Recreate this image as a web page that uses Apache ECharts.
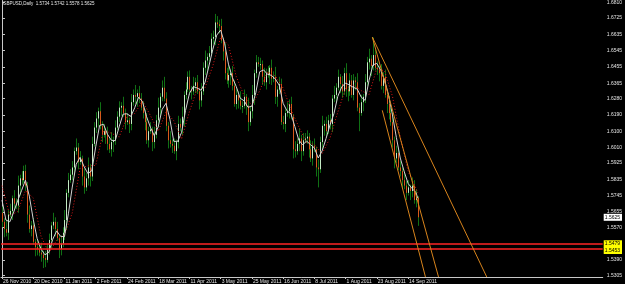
<!DOCTYPE html>
<html><head><meta charset="utf-8">
<script src="https://cdn.jsdelivr.net/npm/echarts@6/dist/echarts.min.js"></script>
<style>html,body{margin:0;padding:0;background:#000}#c{width:625px;height:284px}</style>
</head><body><div id="c"></div>
<script>
const symbolTitle = 'GBPUSD,Daily';
const titleQuote = [1.5734, 1.5742, 1.5578, 1.5625];

const open = [
1.5650,1.5600,1.5560,1.5540,1.5640,1.5660,1.5730,1.5700,1.5690,1.5800,
1.5840,1.5830,1.5880,1.5800,1.5640,1.5560,1.5580,1.5490,1.5460,1.5450,
1.5430,1.5420,1.5400,1.5390,1.5450,1.5500,1.5580,1.5600,1.5560,1.5510,
1.5450,1.5480,1.5540,1.5610,1.5760,1.5830,1.5860,1.5900,1.5990,1.6010,
1.5930,1.5950,1.5850,1.5790,1.5840,1.5900,1.5850,1.6030,1.6120,1.6170,
1.6210,1.6130,1.6080,1.6100,1.6080,1.6030,1.6000,1.6040,1.6050,1.6120,
1.6180,1.6230,1.6240,1.6200,1.6150,1.6160,1.6140,1.6260,1.6300,1.6290,
1.6310,1.6280,1.6230,1.6200,1.6150,1.6050,1.6100,1.6110,1.6040,1.6080,
1.6160,1.6230,1.6290,1.6340,1.6280,1.6130,1.6050,1.6030,1.6020,1.5990,
1.6040,1.6140,1.6120,1.6180,1.6300,1.6330,1.6400,1.6330,1.6320,1.6350,
1.6370,1.6320,1.6270,1.6320,1.6450,1.6490,1.6510,1.6530,1.6610,1.6620,
1.6700,1.6690,1.6680,1.6600,1.6540,1.6420,1.6380,1.6410,1.6420,1.6350,
1.6250,1.6300,1.6270,1.6240,1.6240,1.6290,1.6240,1.6150,1.6210,1.6300,
1.6420,1.6480,1.6470,1.6470,1.6400,1.6370,1.6420,1.6410,1.6450,1.6390,
1.6400,1.6290,1.6330,1.6360,1.6150,1.6140,1.6200,1.6210,1.6250,1.6180,
1.6000,1.5990,1.6030,1.6060,1.5990,1.6050,1.6060,1.6070,1.6000,1.5950,
1.6020,1.6000,1.5900,1.5890,1.6040,1.6130,1.6140,1.6100,1.6160,1.6140,
1.6280,1.6300,1.6340,1.6400,1.6360,1.6320,1.6420,1.6330,1.6320,1.6380,
1.6300,1.6380,1.6370,1.6230,1.6200,1.6260,1.6290,1.6370,1.6480,1.6500,
1.6460,1.6520,1.6450,1.6440,1.6420,1.6350,1.6400,1.6300,1.6250,1.6200,
1.6150,1.6050,1.5950,1.5980,1.5900,1.5880,1.5830,1.5800,1.5760,1.5790,
1.5770,1.5800,1.5720,1.5734];

const high = [
1.5685,1.5620,1.5610,1.5665,1.5700,1.5745,1.5775,1.5730,1.5855,1.5860,
1.5880,1.5910,1.5915,1.5820,1.5690,1.5605,1.5620,1.5505,1.5505,1.5480,
1.5485,1.5440,1.5440,1.5480,1.5535,1.5600,1.5650,1.5625,1.5600,1.5525,
1.5525,1.5570,1.5665,1.5780,1.5870,1.5890,1.5935,1.6010,1.6060,1.6035,
1.5990,1.5965,1.5895,1.5870,1.5955,1.5920,1.6070,1.6150,1.6205,1.6230,
1.6260,1.6155,1.6140,1.6115,1.6125,1.6060,1.6095,1.6070,1.6160,1.6210,
1.6265,1.6260,1.6290,1.6225,1.6200,1.6175,1.6305,1.6330,1.6355,1.6330,
1.6350,1.6310,1.6265,1.6220,1.6200,1.6125,1.6150,1.6125,1.6125,1.6190,
1.6285,1.6310,1.6380,1.6400,1.6315,1.6150,1.6100,1.6055,1.6060,1.6055,
1.6185,1.6170,1.6235,1.6320,1.6370,1.6430,1.6435,1.6350,1.6400,1.6395,
1.6410,1.6335,1.6365,1.6480,1.6545,1.6530,1.6570,1.6640,1.6655,1.6747,
1.6735,1.6715,1.6720,1.6615,1.6585,1.6450,1.6465,1.6440,1.6460,1.6380,
1.6335,1.6320,1.6320,1.6265,1.6330,1.6305,1.6285,1.6240,1.6355,1.6440,
1.6520,1.6510,1.6505,1.6490,1.6450,1.6445,1.6460,1.6465,1.6495,1.6430,
1.6455,1.6350,1.6400,1.6390,1.6185,1.6220,1.6260,1.6275,1.6290,1.6195,
1.6045,1.6060,1.6115,1.6080,1.6090,1.6090,1.6105,1.6090,1.6050,1.6045,
1.6060,1.6015,1.5945,1.6070,1.6185,1.6160,1.6180,1.6190,1.6195,1.6300,
1.6350,1.6365,1.6440,1.6415,1.6405,1.6450,1.6475,1.6350,1.6420,1.6410,
1.6415,1.6400,1.6420,1.6255,1.6300,1.6305,1.6415,1.6510,1.6555,1.6520,
1.6617,1.6550,1.6485,1.6460,1.6470,1.6425,1.6440,1.6315,1.6295,1.6230,
1.6205,1.6070,1.6020,1.6010,1.5935,1.5900,1.5880,1.5825,1.5830,1.5805,
1.5845,1.5830,1.5780,1.5742];

const low = [
1.5570,1.5515,1.5520,1.5500,1.5625,1.5610,1.5665,1.5670,1.5650,1.5745,
1.5805,1.5815,1.5770,1.5595,1.5540,1.5520,1.5475,1.5410,1.5415,1.5410,
1.5380,1.5345,1.5350,1.5375,1.5420,1.5455,1.5560,1.5520,1.5495,1.5400,
1.5415,1.5460,1.5500,1.5555,1.5735,1.5815,1.5830,1.5855,1.5970,1.5890,
1.5915,1.5800,1.5755,1.5770,1.5800,1.5795,1.5825,1.6015,1.6090,1.6125,
1.6110,1.6040,1.6065,1.6030,1.5995,1.5980,1.5960,1.5985,1.6025,1.6105,
1.6150,1.6185,1.6180,1.6110,1.6135,1.6090,1.6105,1.6240,1.6250,1.6235,
1.6255,1.6215,1.6170,1.6105,1.6030,1.6010,1.6085,1.5990,1.6005,1.6060,
1.6120,1.6175,1.6265,1.6265,1.6100,1.6005,1.6010,1.5980,1.5975,1.5940,
1.6005,1.6100,1.6080,1.6125,1.6275,1.6315,1.6300,1.6275,1.6300,1.6310,
1.6305,1.6220,1.6235,1.6300,1.6410,1.6435,1.6485,1.6515,1.6580,1.6575,
1.6670,1.6640,1.6585,1.6490,1.6385,1.6360,1.6340,1.6355,1.6325,1.6235,
1.6220,1.6225,1.6220,1.6200,1.6225,1.6190,1.6100,1.6130,1.6170,1.6245,
1.6395,1.6455,1.6440,1.6355,1.6350,1.6330,1.6395,1.6360,1.6355,1.6370,
1.6250,1.6235,1.6305,1.6135,1.6110,1.6095,1.6180,1.6170,1.6165,1.5950,
1.5955,1.5970,1.5990,1.5935,1.5965,1.6035,1.6030,1.5955,1.5930,1.5910,
1.5985,1.5850,1.5790,1.5870,1.6000,1.6075,1.6075,1.6085,1.6110,1.6095,
1.6260,1.6260,1.6325,1.6310,1.6285,1.6300,1.6290,1.6265,1.6295,1.6285,
1.6270,1.6325,1.6210,1.6100,1.6185,1.6210,1.6255,1.6350,1.6440,1.6405,
1.6435,1.6435,1.6410,1.6375,1.6330,1.6310,1.6285,1.6200,1.6165,1.6130,
1.6010,1.5895,1.5925,1.5885,1.5850,1.5785,1.5780,1.5720,1.5745,1.5720,
1.5735,1.5700,1.5680,1.5578];

const close = [
1.5600,1.5560,1.5540,1.5640,1.5660,1.5730,1.5700,1.5690,1.5800,1.5840,
1.5830,1.5880,1.5800,1.5640,1.5560,1.5580,1.5490,1.5460,1.5450,1.5430,
1.5420,1.5400,1.5390,1.5450,1.5500,1.5580,1.5600,1.5560,1.5510,1.5450,
1.5480,1.5540,1.5610,1.5760,1.5830,1.5860,1.5900,1.5990,1.6010,1.5930,
1.5950,1.5850,1.5790,1.5840,1.5900,1.5850,1.6030,1.6120,1.6170,1.6210,
1.6130,1.6080,1.6100,1.6080,1.6030,1.6000,1.6040,1.6050,1.6120,1.6180,
1.6230,1.6240,1.6200,1.6150,1.6160,1.6140,1.6260,1.6300,1.6290,1.6310,
1.6280,1.6230,1.6200,1.6150,1.6050,1.6100,1.6110,1.6040,1.6080,1.6160,
1.6230,1.6290,1.6340,1.6280,1.6130,1.6050,1.6030,1.6020,1.5990,1.6040,
1.6140,1.6120,1.6180,1.6300,1.6330,1.6400,1.6330,1.6320,1.6350,1.6370,
1.6320,1.6270,1.6320,1.6450,1.6490,1.6510,1.6530,1.6610,1.6620,1.6700,
1.6690,1.6680,1.6600,1.6540,1.6420,1.6380,1.6410,1.6420,1.6350,1.6250,
1.6300,1.6270,1.6240,1.6240,1.6290,1.6240,1.6150,1.6210,1.6300,1.6420,
1.6480,1.6470,1.6470,1.6400,1.6370,1.6420,1.6410,1.6450,1.6390,1.6400,
1.6290,1.6330,1.6360,1.6150,1.6140,1.6200,1.6210,1.6250,1.6180,1.6000,
1.5990,1.6030,1.6060,1.5990,1.6050,1.6060,1.6070,1.6000,1.5950,1.6020,
1.6000,1.5900,1.5890,1.6040,1.6130,1.6140,1.6100,1.6160,1.6140,1.6280,
1.6300,1.6340,1.6400,1.6360,1.6320,1.6420,1.6330,1.6320,1.6380,1.6300,
1.6380,1.6370,1.6230,1.6200,1.6260,1.6290,1.6370,1.6480,1.6500,1.6460,
1.6520,1.6450,1.6440,1.6420,1.6350,1.6400,1.6300,1.6250,1.6200,1.6150,
1.6050,1.5950,1.5980,1.5900,1.5880,1.5830,1.5800,1.5760,1.5790,1.5770,
1.5800,1.5720,1.5734,1.5625];

// fast moving average (white line), read as [bar index, price]
const maFast = [[0,1.5720],[2,1.5610],[4,1.5600],[6,1.5654],[8,1.5716],[10,1.5772],[12,1.5830],[14,1.5742],[16,1.5614],[18,1.5508],[20,1.5450],[22,1.5418],[24,1.5432],[26,1.5504],[28,1.5550],[30,1.5520],[32,1.5518],[34,1.5644],[36,1.5792],[38,1.5918],[40,1.5956],[42,1.5906],[44,1.5866],[46,1.5882],[48,1.6014],[50,1.6132],[52,1.6138],[54,1.6084],[56,1.6050],[58,1.6048],[60,1.6124],[62,1.6194],[64,1.6196],[66,1.6182],[68,1.6230],[70,1.6288],[72,1.6262],[74,1.6182],[76,1.6122],[78,1.6076],[80,1.6124],[82,1.6220],[84,1.6254],[86,1.6166],[88,1.6044],[90,1.6044],[92,1.6094],[94,1.6214],[96,1.6308],[98,1.6346],[100,1.6338],[102,1.6326],[104,1.6370],[106,1.6460],[108,1.6552],[110,1.6630],[112,1.6658],[114,1.6586],[116,1.6470],[118,1.6396],[120,1.6346],[122,1.6282],[124,1.6268],[126,1.6232],[128,1.6238],[130,1.6312],[132,1.6428],[134,1.6438],[136,1.6414],[138,1.6408],[140,1.6388],[142,1.6354],[144,1.6254],[146,1.6212],[148,1.6196],[150,1.6126],[152,1.6052],[154,1.6024],[156,1.6046],[158,1.6026],[160,1.6008],[162,1.5952],[164,1.5992],[166,1.6060],[168,1.6134],[170,1.6196],[172,1.6292],[174,1.6344],[176,1.6366],[178,1.6354],[180,1.6342],[182,1.6332],[184,1.6288],[186,1.6270],[188,1.6380],[190,1.6466],[192,1.6474],[194,1.6436],[196,1.6382],[198,1.6300],[200,1.6190],[202,1.6066],[204,1.5952],[206,1.5878],[208,1.5812],[210,1.5784],[212,1.5763],[213,1.5730]];

// slow moving average (red dotted line)
const maSlow = [[0,1.5800],[4,1.5635],[8,1.5656],[12,1.5772],[16,1.5732],[20,1.5520],[24,1.5430],[28,1.5498],[32,1.5527],[36,1.5650],[40,1.5896],[44,1.5909],[48,1.5911],[52,1.6104],[56,1.6089],[60,1.6068],[64,1.6177],[68,1.6198],[72,1.6267],[76,1.6187],[80,1.6100],[84,1.6205],[88,1.6158],[92,1.6057],[96,1.6208],[100,1.6335],[104,1.6340],[108,1.6461],[112,1.6618],[116,1.6575],[120,1.6402],[124,1.6295],[128,1.6243],[132,1.6323],[136,1.6430],[140,1.6405],[144,1.6338],[148,1.6219],[152,1.6125],[156,1.6037],[160,1.6027],[164,1.5976],[168,1.6062],[172,1.6205],[176,1.6337],[180,1.6354],[184,1.6324],[188,1.6302],[192,1.6447],[196,1.6432],[200,1.6293],[204,1.6069],[208,1.5880],[212,1.5786],[213,1.5760]];

const dateTickIndex = [0,16,32,48,64,80,96,112,128,144,160,176,192,208];
const dateTickLabels = ['26 Nov 2010','20 Dec 2010','11 Jan 2011','2 Feb 2011','24 Feb 2011','18 Mar 2011','11 Apr 2011','3 May 2011','25 May 2011','16 Jun 2011','8 Jul 2011','1 Aug 2011','23 Aug 2011','14 Sep 2011'];
const priceTicks = [1.6810,1.6725,1.6635,1.6545,1.6455,1.6365,1.6280,1.6190,1.6100,1.6010,1.5925,1.5835,1.5745,1.5655,1.5570,1.5390,1.5305];
const currentPrice = 1.5625;
const levelPrices = [1.5479, 1.5453];
// trend lines: [startBar, startPrice, endBar, endPrice]
const trendLines = [[189.7,1.6619,248.3,1.5296],[189.7,1.6619,223.6,1.5296],[194.8,1.6215,216.9,1.5296]];
const priceRange = [1.52957, 1.68210];
const barRange = [-0.5, 307.7];

const candles = close.map((c, i) => [i, open[i], c, low[i], high[i]]);

function renderCandle(params, api) {
  const i = api.value(0), o = api.value(1), c = api.value(2), l = api.value(3), h = api.value(4);
  const pH = api.coord([i, h]), pL = api.coord([i, l]);
  const pO = api.coord([i, o]), pC = api.coord([i, c]);
  const x = Math.round(pH[0]) + 0.5;
  const top = Math.min(pO[1], pC[1]);
  const bot = Math.max(Math.max(pO[1], pC[1]), top + 1);
  return {
    type: 'group',
    children: [
      {type: 'line', shape: {x1: x, y1: pH[1], x2: x, y2: pL[1]}, style: {stroke: '#107014', lineWidth: 1}},
      {type: 'line', shape: {x1: x, y1: top, x2: x, y2: bot}, style: {stroke: c >= o ? '#c4eac4' : '#d85a1c', lineWidth: 1}}
    ]
  };
}

const font = 'Liberation Sans';
const levelLines = levelPrices.map((p, k) => ({
  yAxis: p,
  lineStyle: {color: '#ff2424', width: 1.5, type: 'solid'},
  label: {show: true, position: 'end', formatter: p.toFixed(4), backgroundColor: '#ffff00', color: '#000',
          fontSize: 5, fontFamily: font, padding: [1, 2, 1, 1], distance: 1, offset: [0, k === 0 ? 0 : 2]}
}));
const priceLabel = {
  yAxis: currentPrice,
  lineStyle: {color: 'rgba(0,0,0,0)', width: 0},
  label: {show: true, position: 'end', formatter: currentPrice.toFixed(4), backgroundColor: '#ffffff', color: '#000',
          fontSize: 5, fontFamily: font, padding: [1, 2, 1, 1], distance: 1}
};
const trendItems = trendLines.map(t => [
  {coord: [t[0], t[1]], lineStyle: {color: '#d8841c', width: 1, type: 'solid'}, label: {show: false}},
  {coord: [t[2], t[3]]}
]);

const chart = echarts.init(document.getElementById('c'), null, {renderer: 'canvas'});
chart.setOption({
  animation: false,
  backgroundColor: '#000000',
  title: {
    text: symbolTitle + '  ' + titleQuote.map(v => v.toFixed(4)).join(' '),
    left: 3, top: 1, padding: 0,
    textStyle: {color: '#e8e8e8', fontSize: 4.5, fontWeight: 'normal', fontFamily: font}
  },
  grid: {left: 0, right: 20, top: 0, bottom: 7},
  xAxis: {
    type: 'value', min: barRange[0], max: barRange[1],
    splitLine: {show: false},
    axisLine: {show: true, lineStyle: {color: '#c8c8c8', width: 1}},
    axisTick: {show: true, customValues: dateTickIndex, length: 2, lineStyle: {color: '#c8c8c8'}},
    axisLabel: {
      customValues: dateTickIndex,
      formatter: v => dateTickLabels[dateTickIndex.indexOf(Math.round(v))] || '',
      align: 'left', padding: [0, 0, 0, 1], color: '#e4e4e4', fontSize: 5, margin: 2, fontFamily: font
    }
  },
  yAxis: {
    type: 'value', position: 'right', min: priceRange[0], max: priceRange[1], scale: true,
    splitLine: {show: false},
    axisLine: {show: true, lineStyle: {color: '#c8c8c8', width: 1}},
    axisTick: {show: true, customValues: priceTicks, length: 3, lineStyle: {color: '#c8c8c8'}},
    axisLabel: {customValues: priceTicks, formatter: v => v.toFixed(4), color: '#e4e4e4', fontSize: 5, margin: 4, fontFamily: font}
  },
  series: [
    {
      type: 'custom', name: 'GBPUSD', renderItem: renderCandle, data: candles,
      encode: {x: 0, y: [1, 2, 3, 4]}, clip: true, silent: true
    },
    {
      type: 'line', name: 'MA fast', data: maFast, showSymbol: false, symbol: 'none', silent: true,
      lineStyle: {color: '#d4d4d4', width: 1}, z: 3, clip: true,
      markLine: {silent: true, symbol: 'none', animation: false, precision: 4,
        data: [...levelLines, priceLabel, ...trendItems]}
    },
    {
      type: 'line', name: 'MA slow', data: maSlow, showSymbol: false, symbol: 'none', silent: true,
      lineStyle: {color: '#e01818', width: 1, type: [1, 2]}, z: 2, clip: true
    }
  ]
});
</script>
</body></html>
